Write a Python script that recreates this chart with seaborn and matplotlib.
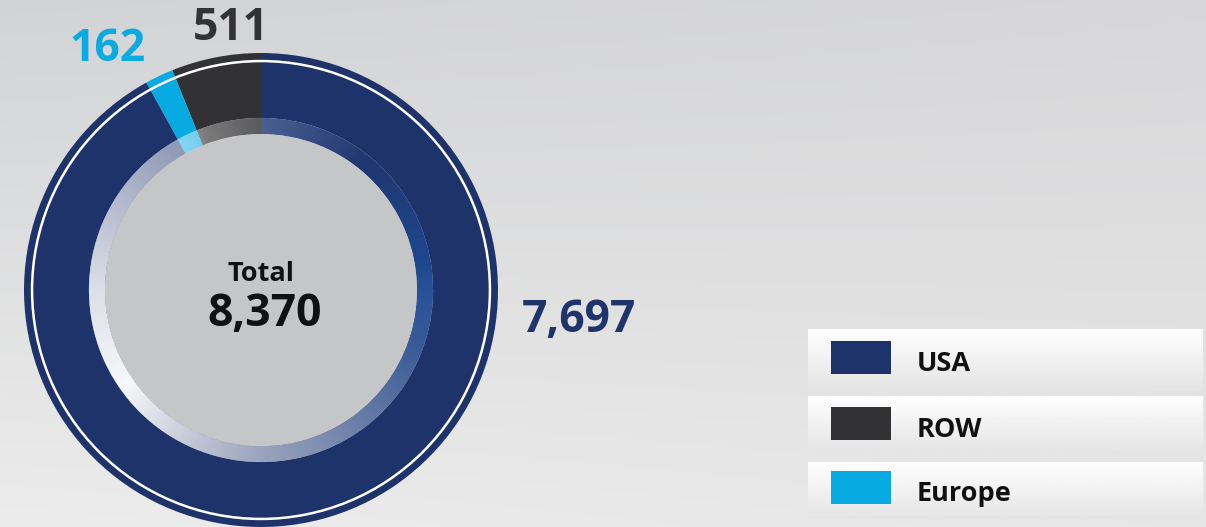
import numpy as np
import seaborn as sns
import matplotlib.pyplot as plt
from matplotlib.patches import Wedge, Circle, Rectangle

# Data
categories = ["USA", "ROW", "Europe"]
values = [7697, 511, 162]
total_label = "8,370"
value_labels = ["7,697", "511", "162"]

# order in which the segments go round (counter-clockwise from 12 o'clock)
pie_order = ["ROW", "Europe", "USA"]

sns.set_theme(style="white")
plt.rcParams['font.family'] = ['Open Sans', 'DejaVu Sans']

palette = dict(zip(categories, sns.color_palette(["#1f336b", "#323234", "#07abe2"])))

W, H = 1206, 527
fig = plt.figure(figsize=(W / 100, H / 100), dpi=100)

# background gradient, in pixel coordinates
bg = fig.add_axes([0, 0, 1, 1])
bg.axis('off')
yy, xx = np.mgrid[0:1:120j, 0:1:240j]
top = (1 - xx)[..., None] * np.array([0.825, 0.829, 0.837]) + xx[..., None] * np.array([0.845, 0.845, 0.853])
bot = (1 - xx)[..., None] * np.array([0.925, 0.925, 0.925]) + xx[..., None] * np.array([0.905, 0.905, 0.905])
grad = (1 - yy)[..., None] * top + yy[..., None] * bot
bg.imshow(grad, extent=[0, W, H, 0], aspect='auto', zorder=0, interpolation='bilinear')

# legend rows (box top, box bottom, swatch top)
box_tops = [329, 396, 462]
box_bots = [390, 452, 519]
swatch_tops = [341, 407, 471]
box_grad = np.linspace(0.995, 0.895, 60)[:, None] * np.ones((60, 3))
for cat, bt, bb, st in zip(categories, box_tops, box_bots, swatch_tops):
    bg.imshow(box_grad, extent=[808, 1203, bb, bt], cmap='gray', vmin=0, vmax=1,
              aspect='auto', zorder=1, interpolation='bilinear')
    bg.add_patch(Rectangle((831, st), 60, 33, facecolor=palette[cat], lw=0, zorder=2))
    bg.text(917, st + 30, cat, fontsize=19.5, fontweight='bold', color='#111111',
            va='baseline', ha='left', zorder=3)
bg.set_xlim(0, W)
bg.set_ylim(H, 0)

# donut
ax = fig.add_axes([24 / W, 0, 474 / W, 474 / H])
ax.patch.set_visible(False)
pie_vals = [values[categories.index(c)] for c in pie_order]
pie_cols = [palette[c] for c in pie_order]

r_out, r_mid, r_in = 1.0, 0.726, 0.658
ax.pie(pie_vals, colors=pie_cols, startangle=90, counterclock=True, radius=r_out,
       wedgeprops=dict(width=r_out - r_mid, linewidth=0))
ax.pie(pie_vals, colors=pie_cols, startangle=90, counterclock=True, radius=r_mid,
       wedgeprops=dict(width=r_mid - r_in, linewidth=0))

# sheen on the inner ring: conic gradient, clockwise angle from 12 o'clock
n = 500
gy, gx = np.mgrid[-1:1:n * 1j, -1:1:n * 1j]
theta = (90 - np.degrees(np.arctan2(gy, gx))) % 360
ring = Wedge((0, 0), r_mid, 0, 360, width=r_mid - r_in, transform=ax.transData)

blue = np.zeros((n, n, 4))
blue[..., :3] = [0.13, 0.38, 0.72]
blue[..., 3] = np.interp(theta, [0, 40, 90, 130, 180, 360], [0.15, 0.08, 0.55, 0.3, 0.0, 0.0])
im_b = ax.imshow(blue, extent=[-1, 1, -1, 1], origin='lower', zorder=3)
im_b.set_clip_path(ring)

white = np.ones((n, n, 4))
white[..., 3] = np.interp(theta, [0, 40, 80, 110, 150, 190, 235, 270, 305, 335, 340, 360],
                          [0.2, 0.0, 0.0, 0.12, 0.38, 0.62, 0.97, 0.85, 0.65, 0.48, 0.36, 0.2])
im_w = ax.imshow(white, extent=[-1, 1, -1, 1], origin='lower', zorder=3.5)
im_w.set_clip_path(ring)

ax.add_patch(Circle((0, 0), r_in, facecolor='#c5c6c8', lw=0, zorder=4))
ax.add_patch(Circle((0, 0), 0.966, fill=False, edgecolor='white', lw=1.8, zorder=5))

# value labels
lab_font = dict(fontsize=32, fontweight='bold', va='baseline')
ax.text(-0.127, 1.055, value_labels[1], color='#333333', ha='center', **lab_font)
ax.text(-0.646, 0.966, value_labels[2], color='#0aabe1', ha='center', **lab_font)
ax.text(1.101, -0.177, value_labels[0], color='#1f346b', ha='left', **lab_font)

ax.text(0, 0.038, "Total", fontsize=19.5, fontweight='bold', color='#111111',
        ha='center', va='baseline', zorder=6)
ax.text(0.015, -0.152, total_label, fontsize=32, fontweight='bold', color='#111111',
        ha='center', va='baseline', zorder=6)

ax.set_xlim(-1, 1)
ax.set_ylim(-1, 1)
ax.axis('off')

fig.savefig("out.png", dpi=100)
